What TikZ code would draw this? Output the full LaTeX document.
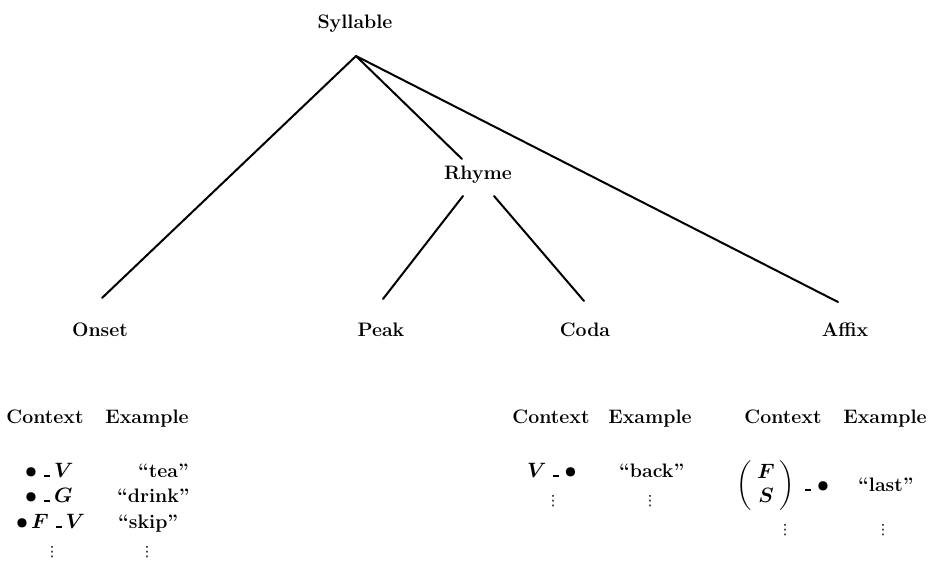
\documentclass[tikz,border=0pt]{standalone}
\usepackage{amsmath}
\usepackage{fontspec}
\newfontfamily\symfont{DejaVu Sans}
\newcommand\slotmark{\rule{6pt}{2pt}}
\begin{document}
\begin{tikzpicture}[x=1pt,y=-1pt,
  every node/.style={inner sep=0pt, font=\fontsize{19}{23}\selectfont},
  lbl/.style={font=\fontsize{19.5}{23}\selectfont\bfseries},
  ctx/.style={font=\fontsize{20}{24}\selectfont\boldmath},
  edge/.style={line width=2pt, line cap=round},
  dotsmark/.style={font=\fontsize{14}{16}\selectfont\symfont}]
\useasboundingbox (0,0) rectangle (929,561);

% tree labels
\node[lbl, anchor=base] (syl) at (355,29) {Syllable};
\coordinate (apex) at (356,56);
\node[lbl, anchor=base] (rhyme) at (478,180) {Rhyme};
\coordinate (rhymeIn) at (462,159);
\coordinate (rhymeL) at (463,196);
\coordinate (rhymeR) at (494,196);
\node[lbl, anchor=base] (onset) at (100,336) {Onset};
\coordinate (onsetIn) at (102,298);
\node[lbl, anchor=base] (peak) at (381,336) {Peak};
\coordinate (peakIn) at (383,299);
\node[lbl, anchor=base] (coda) at (585,336) {Coda};
\coordinate (codaIn) at (584,301);
\node[lbl, anchor=base] (affix) at (845,336) {Affix};
\coordinate (affixIn) at (838,302);

\draw[edge] (apex) -- (onsetIn);
\draw[edge] (apex) -- (rhymeIn);
\draw[edge] (apex) -- (affixIn);
\draw[edge] (rhymeL) -- (peakIn);
\draw[edge] (rhymeR) -- (codaIn);

% headers
\node[lbl, anchor=base] (oc) at (45,423) {Context};
\node[lbl, anchor=base] (oe) at (147,423) {Example};
\node[lbl, anchor=base] (cc) at (551,423) {Context};
\node[lbl, anchor=base] (ce) at (650,423) {Example};
\node[lbl, anchor=base] (ac) at (783,423) {Context};
\node[lbl, anchor=base] (ae) at (885,423) {Example};

% onset rows
\node[ctx, anchor=base west] (o1c) at (25,477) {$\bullet$\hspace{7pt}\slotmark\hspace{4pt}$V$};
\node[lbl, anchor=base west] (o1e) at (138,477) {``tea''};
\node[ctx, anchor=base west] (o2c) at (25,502) {$\bullet$\hspace{7pt}\slotmark\hspace{4pt}$G$};
\node[lbl, anchor=base west] (o2e) at (117,502) {``drink''};
\node[ctx, anchor=base west] (o3c) at (16,528) {$\bullet$\hspace{3pt}$F$\hspace{7pt}\slotmark\hspace{4pt}$V$};
\node[lbl, anchor=base west] (o3e) at (118,528) {``skip''};
\node[dotsmark] (o4c) at (52,552) {⋮};
\node[dotsmark] (o4e) at (147,552) {⋮};

% coda rows
\node[ctx, anchor=base west] (c1c) at (527,477) {$V$\hspace{6pt}\slotmark\hspace{6pt}$\bullet$};
\node[lbl, anchor=base west] (c1e) at (619,477) {``back''};
\node[dotsmark] (c2c) at (553,501) {⋮};
\node[dotsmark] (c2e) at (650,501) {⋮};

% affix rows
\node[ctx] (a1p) at (766,486) {$\left(\begin{array}{c}F\\S\end{array}\right)$};
\node[ctx, anchor=base west] (a1c) at (805,491) {\slotmark\hspace{6pt}$\bullet$};
\node[lbl, anchor=base west] (a1e) at (858,491) {``last''};
\node[dotsmark] (a2c) at (785,530) {⋮};
\node[dotsmark] (a2e) at (883,530) {⋮};
\end{tikzpicture}
\end{document}
